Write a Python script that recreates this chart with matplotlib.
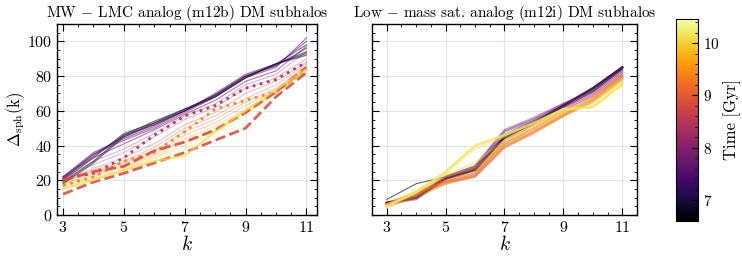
import numpy as np
import matplotlib
matplotlib.use("Agg")
import matplotlib.pyplot as plt
from matplotlib.colors import Normalize
from matplotlib.ticker import MultipleLocator
import matplotlib.cm as cm

plt.rcParams.update({
    "font.family": "serif",
    "font.serif": ["cmr10", "DejaVu Serif"],
    "mathtext.fontset": "cm",
    "axes.formatter.use_mathtext": True,
    "axes.unicode_minus": False,
})

k = [3, 4, 5, 6, 7, 8, 9, 10, 11]

# Left panel (m12b): thin lines, times [Gyr] and Delta_sph values
left_times = [6.65, 6.8, 7.0, 7.2, 7.4, 7.6, 7.8, 8.0, 8.2, 8.4, 8.7, 8.9, 9.1, 9.3, 9.5, 9.7, 9.9, 10.1, 10.3]
left_vals = [
    [18, 30, 45, 53, 60, 68, 79, 87, 93],
    [19, 31, 46, 54, 61, 68, 79, 87, 92],
    [20, 33, 47, 53, 61, 69, 80, 87, 94],
    [21, 34, 46, 52, 60, 69, 80, 86, 96],
    [21, 35, 45, 52, 60, 70, 81, 87, 98],
    [22, 36, 44, 51, 60, 69, 80, 86, 100],
    [22, 35, 43, 50, 59, 68, 79, 85, 102],
    [22, 33, 41, 49, 58, 66, 77, 83, 97],
    [21, 31, 38, 47, 57, 64, 75, 81, 94],
    [21, 29, 36, 45, 55, 62, 73, 79, 90],
    [20, 27, 33, 41, 52, 59, 70, 77, 88],
    [19, 26, 31, 39, 50, 57, 67, 75, 87],
    [19, 25, 30, 37, 48, 55, 65, 73, 86],
    [18, 24, 29, 35, 46, 53, 63, 72, 85],
    [18, 23, 28, 34, 44, 51, 61, 71, 84],
    [17, 22, 27, 33, 42, 49, 60, 70, 84],
    [16, 21, 26, 32, 40, 48, 59, 70, 83],
    [16, 21, 25, 31, 38, 47, 58, 70, 83],
    [15, 20, 25, 30, 36, 46, 57, 70, 83],
]

# Left panel highlighted lines
hl_times = [8.35, 9.4, 8.85, 8.9, 10.1]
hl_styles = [":", ":", "--", "--", "-"]
hl_vals = [
    [21, 24, 33, 46, 57, 63, 73, 78, 88],
    [17, 22, 31, 36, 48, 61, 66, 71, 84],
    [20, 25, 28, 37, 42, 49, 59, 71, 85],
    [12, 19, 24, 30, 36, 43, 50, 68, 82],
    [15, 20, 26, 31, 34, 48, 60, 72, 84],
]

# Right panel (m12i)
right_times = [6.65, 6.9, 7.3, 7.6, 7.9, 8.2, 8.5, 8.8, 9.0, 9.2, 9.4, 9.6, 9.8, 10.0, 10.1, 10.2]
right_vals = [
    [9, 18, 22, 27, 44, 53, 62, 71, 84],
    [7, 10, 21, 26, 45, 53, 63, 73, 85],
    [7, 9, 21, 27, 46, 54, 63, 72, 85],
    [6, 10, 22, 28, 48, 55, 64, 72, 84],
    [7, 11, 22, 28, 49, 56, 64, 71, 83],
    [7, 12, 21, 26, 46, 54, 62, 70, 82],
    [6, 12, 20, 24, 43, 52, 61, 69, 81],
    [6, 13, 19, 23, 41, 50, 60, 68, 80],
    [6, 12, 19, 22, 39, 48, 58, 67, 80],
    [5, 11, 18, 22, 39, 47, 57, 66, 79],
    [5, 10, 18, 23, 40, 48, 57, 65, 78],
    [6, 12, 20, 25, 41, 49, 58, 66, 79],
    [6, 13, 22, 27, 42, 50, 59, 66, 78],
    [6, 14, 23, 30, 43, 51, 60, 65, 77],
    [5, 13, 24, 38, 45, 52, 60, 63, 76],
    [5, 13, 25, 40, 46, 53, 61, 62, 75],
]
right_bold = [6.9, 8.9, 10.2]

tmin, tmax = 6.6, 10.46
norm = Normalize(tmin, tmax)
cmap = plt.get_cmap("inferno")

fig = plt.figure(figsize=(7.42, 2.56), dpi=100)
W, H = 742, 256
def ax_rect(x0, x1, y0, y1):
    return [x0 / W, 1 - y1 / H, (x1 - x0) / W, (y1 - y0) / H]

ax1 = fig.add_axes(ax_rect(57, 317, 24, 215))
ax2 = fig.add_axes(ax_rect(372, 637, 24, 215))
cax = fig.add_axes(ax_rect(676, 698, 19, 221))

for t, v in zip(left_times, left_vals):
    ax1.plot(k, v, color=cmap(norm(t)), lw=0.9, alpha=0.3)
for t, v in zip(left_times[:8], left_vals[:8]):
    ax1.plot(k, v, color=cmap(norm(t)), lw=0.8, alpha=0.35)
for t, ls, v in zip(hl_times, hl_styles, hl_vals):
    ax1.plot(k, v, color=cmap(norm(t)), lw=2.0 if ls != "-" else 1.5, ls=ls,
             alpha=0.9 if ls != "-" else 0.7)

for t, v in zip(right_times, right_vals):
    if t in right_bold:
        ax2.plot(k, v, color=cmap(norm(t)), lw=1.8, alpha=0.85)
    elif t < 6.7:
        ax2.plot(k, v, color=cmap(norm(t)), lw=0.8, alpha=0.6)
    else:
        ax2.plot(k, v, color=cmap(norm(t)), lw=1.6, alpha=0.4)

for ax, xl in ((ax1, (2.8, 11.35)), (ax2, (2.5, 11.5))):
    ax.set_xlim(*xl)
    ax.set_ylim(0, 110)
    ax.set_xticks([3, 5, 7, 9, 11])
    ax.xaxis.set_minor_locator(MultipleLocator(0.5))
    ax.set_yticks([0, 20, 40, 60, 80, 100])
    ax.yaxis.set_minor_locator(MultipleLocator(5))
    ax.tick_params(which="both", direction="in", top=True, right=True, labelsize=11.5)
    ax.tick_params(which="major", length=5, width=0.8)
    ax.tick_params(which="minor", length=2.5, width=0.6)
    ax.grid(True, color="#cccccc", alpha=0.5, lw=0.8)
    ax.set_axisbelow(True)
    ax.set_xlabel(r"$k$", fontsize=14, labelpad=0)
    for s in ax.spines.values():
        s.set_linewidth(1.0)

ax2.tick_params(labelleft=False)
ax1.set_ylabel(r"$\Delta_{\rm sph}(\mathrm{k})$", fontsize=12, labelpad=0)
ax1.set_title(r"MW $-$ LMC analog (m12b) DM subhalos", fontsize=11, pad=5)
ax2.set_title(r"Low $-$ mass sat. analog (m12i) DM subhalos", fontsize=11, pad=5)

sm = cm.ScalarMappable(norm=norm, cmap=cmap)
cb = fig.colorbar(sm, cax=cax)
cb.set_ticks([7, 8, 9, 10])
cb.ax.yaxis.set_minor_locator(MultipleLocator(0.2))
cb.ax.tick_params(which="both", direction="in", labelsize=11)
cb.ax.tick_params(which="major", length=4)
cb.ax.tick_params(which="minor", length=2)
cb.set_label("Time [Gyr]", fontsize=12, labelpad=3)
cb.outline.set_linewidth(0.8)

fig.savefig("out.png", dpi=100)
